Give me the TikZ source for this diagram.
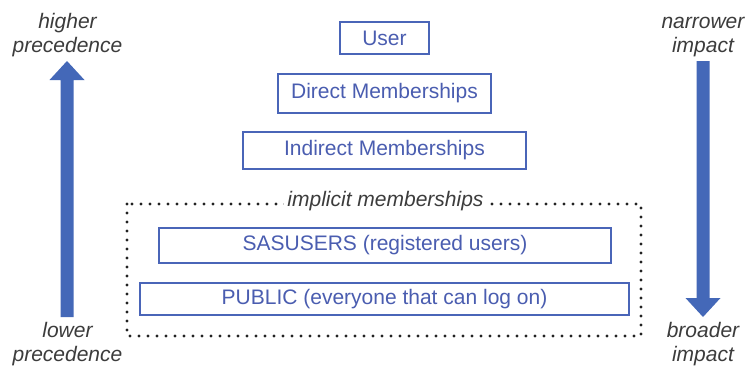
\documentclass[tikz,border=0pt]{standalone}
\usepackage{fontspec}
\setmainfont{Liberation Sans}
\definecolor{boxblue}{HTML}{4A65B8}
\definecolor{txtblue}{HTML}{4A5DB0}
\definecolor{arrblue}{HTML}{4468B8}
\definecolor{lblgray}{HTML}{3C3C3C}
\definecolor{dotgray}{HTML}{222222}
\begin{document}
\begin{tikzpicture}[x=1pt,y=-1pt,
  levelbox/.style={draw=boxblue,line width=1.5pt,text=txtblue,inner sep=0pt,
    font=\fontsize{21}{25}\selectfont,anchor=center},
  sidelabel/.style={text=lblgray,font=\fontsize{21}{24}\selectfont\itshape,
    align=center,inner sep=0pt,anchor=base},
  dotframe/.style={draw=dotgray,line width=3.2pt,line cap=round,dash pattern=on 0pt off 9pt},
  bigarrow/.style={fill=arrblue,draw=none}]
\useasboundingbox (0,0) rectangle (748,367);
\fill[white] (0,0) rectangle (748,367);
% dotted frame
\draw[dotframe] (127,204) rectangle (641,336);
\node[text=lblgray,font=\fontsize{21}{25}\selectfont\itshape,fill=white,inner sep=3pt,anchor=center] (impl) at (385.5,201) {implicit memberships};
% level boxes
\node[levelbox,minimum width=89pt,minimum height=32pt] (user) at (384.5,38) {User};
\node[levelbox,minimum width=213pt,minimum height=39pt] (direct) at (384.5,93.5) {Direct Memberships};
\node[levelbox,minimum width=283pt,minimum height=37pt] (indirect) at (384.5,150.5) {Indirect Memberships};
\node[levelbox,minimum width=452pt,minimum height=35pt] (sasusers) at (385,245.5) {SASUSERS (registered users)};
\node[levelbox,minimum width=489pt,minimum height=32pt] (public) at (384.5,299) {PUBLIC (everyone that can log on)};
% side labels (anchor base = baseline of last line)
\node[sidelabel] (higher) at (67.5,52) {higher\\precedence};
\node[sidelabel] (lower) at (67.5,361) {lower\\precedence};
\node[sidelabel] (narrower) at (703,52) {narrower\\impact};
\node[sidelabel] (broader) at (703,361) {broader\\impact};
% big arrows
\fill[bigarrow] (60.5,317) -- (60.5,80) -- (49.5,80) -- (67,61) -- (84.5,80) -- (73.5,80) -- (73.5,317) -- cycle;
\fill[bigarrow] (696.5,61) -- (696.5,298) -- (685.5,298) -- (703,317) -- (720.5,298) -- (709.5,298) -- (709.5,61) -- cycle;
\end{tikzpicture}
\end{document}
